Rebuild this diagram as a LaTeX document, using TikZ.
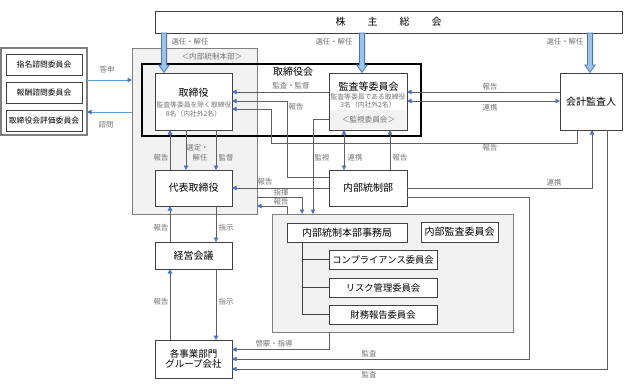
\documentclass[tikz,border=0pt]{standalone}
\usepackage{fontspec}
\setmainfont{Noto Sans CJK JP}
\usetikzlibrary{arrows.meta,calc}
\definecolor{boxc}{RGB}{64,64,64}
\definecolor{grayf}{RGB}{242,242,242}
\definecolor{grayb}{RGB}{127,127,127}
\definecolor{lineg}{RGB}{95,95,95}
\definecolor{arrb}{RGB}{68,114,196}
\definecolor{txtg}{RGB}{115,115,115}
\definecolor{bigf}{RGB}{157,195,230}
\definecolor{bigd}{RGB}{74,120,181}
\definecolor{linb}{RGB}{91,155,213}
\tikzset{
 every node/.style={inner sep=0pt, outer sep=0pt},
 box/.style={draw=boxc, line width=0.9pt, fill=white, font=\fontsize{10}{12}\selectfont},
 cbox/.style={draw=boxc, line width=0.9pt, fill=white, minimum width=76, minimum height=21, font=\fontsize{7.8}{9}\selectfont},
 gbox/.style={draw=grayb, line width=0.9pt, fill=grayf},
 ttl/.style={font=\fontsize{10}{12}\selectfont},
 lbl/.style={text=txtg, font=\fontsize{7.4}{8.5}\selectfont},
 sm/.style={text=txtg, font=\fontsize{6.8}{8}\selectfont},
 con/.style={draw=lineg, line width=0.8pt},
 blin/.style={draw=linb, line width=0.9pt},
 tree/.style={draw=boxc, line width=0.8pt},
 ar/.style={-{Triangle[length=4.5pt,width=4.5pt,color=arrb]}},
 al/.style={{Triangle[length=4.5pt,width=4.5pt,color=arrb]}-},
 ab/.style={{Triangle[length=4.5pt,width=4.5pt,color=arrb]}-{Triangle[length=4.5pt,width=4.5pt,color=arrb]}},
 bigarr/.style={draw=bigd, fill=bigf, line width=0.8pt, line join=miter}
}
\newcommand\BigArr[3]{%
 \draw[bigarr] let \p1=(#1), \p2=(#2), \p3=(#3) in
  (\x1-2.6pt,\y2) -- (\x1+2.6pt,\y2) -- (\x1+2.6pt,\y3+8pt) -- (\x1+5.2pt,\y3+8pt)
  -- (\x1,\y3+0.6pt) -- (\x1-5.2pt,\y3+8pt) -- (\x1-2.6pt,\y3+8pt) -- cycle;}
\begin{document}
\begin{tikzpicture}[x=1pt,y=-1pt]
\useasboundingbox (0,0) rectangle (633,389);
% top box
\node[box, minimum width=467, minimum height=22] (sh) at (388.5,22) {株\hspace{22pt}主\hspace{22pt}総\hspace{22pt}会};
% committees
\node[draw=grayb, line width=1.3pt, fill=white, minimum width=86, minimum height=87] (com) at (44,91.5) {};
\node[cbox] (c1) at (44,64.5) {指名諮問委員会};
\node[cbox] (c2) at (44,92.5) {報酬諮問委員会};
\node[cbox] (c3) at (44,120.5) {取締役会評価委員会};
% gray areas
\node[gbox, minimum width=125, minimum height=166] (ns) at (194.5,131) {};
\node[lbl, font=\fontsize{7.6}{9}\selectfont] (nsl) at (212,57) {＜内部統制本部＞};
\node[gbox, minimum width=241, minimum height=118] (low) at (392.5,273) {};
% board frame
\node[draw=black, line width=1.8pt, minimum width=279, minimum height=72] (tb) at (281.5,100) {};
\node[ttl] (tbl) at (293,72) {取締役会};
% directors
\node[box, minimum width=77, minimum height=57] (tor) at (193.5,101.5) {};
\node[ttl] (tor1) at (193.5,93) {取締役};
\node[sm] (tor2) at (194,105) {監査等委員を除く取締役};
\node[sm] (tor3) at (193.5,114) {8名（内社外2名）};
% audit committee
\node[box, minimum width=78, minimum height=57] (kan) at (368,101.5) {};
\fill[grayf] ($(kan.south west)+(1,-0.6)$) rectangle ($(kan.north east)+(-1,37)$);
\node[ttl] (kan1) at (368.5,87) {監査等委員会};
\node[sm] (kan2) at (368,97) {監査等委員である取締役};
\node[sm] (kan3) at (368,104.5) {3名（内社外2名）};
\node[lbl, font=\fontsize{7.6}{9}\selectfont] (kan4) at (368.5,120) {＜監視委員会＞};
% other boxes
\node[box, minimum width=62, minimum height=57] (kai) at (591,101.5) {会計監査人};
\node[box, minimum width=77, minimum height=36] (dai) at (193.5,188) {代表取締役};
\node[box, minimum width=77, minimum height=27] (kei) at (193.5,255.5) {経営会議};
\node[box, minimum width=77, minimum height=38, align=center, font=\fontsize{9.5}{10.5}\selectfont] (kak) at (193.5,359) {各事業部門\\グループ会社};
\node[box, minimum width=78, minimum height=36] (nai) at (368,188) {内部統制部};
\node[box, minimum width=120, minimum height=19] (jim) at (347,232.5) {内部統制本部事務局};
\node[box, minimum width=77, minimum height=20] (kan5) at (459.5,232) {内部監査委員会};
\node[box, minimum width=108, minimum height=19, font=\fontsize{9.3}{11}\selectfont] (cmp) at (383,259.5) {コンプライアンス委員会};
\node[box, minimum width=108, minimum height=19, font=\fontsize{9.3}{11}\selectfont] (rsk) at (383,287.5) {リスク管理委員会};
\node[box, minimum width=108, minimum height=19, font=\fontsize{9.3}{11}\selectfont] (zai) at (383,314.5) {財務報告委員会};
% tree
\coordinate (tr) at ($(jim.south west)+(15,0)$);
\draw[tree] (tr) |- (cmp.west);
\draw[tree] (tr) |- (rsk.west);
\draw[tree] (tr) |- (zai.west);
% connectors
\draw[blin, ar] (com.east |- 0,80) -- (ns.west |- 0,80);
\draw[blin, al] (com.east |- 0,112) -- (ns.west |- 0,112);
\draw[con, ar] (kan.west |- 0,92) -- (tor.east |- 0,92);
\draw[con, ar] (nai.west |- 0,177) -| (287,101) -- (tor.east |- 0,101);
\draw[con, ar] (kai.south -| 577,0) |- (271,143) |- (tor.east |- 0,109);
\draw[con, ar] (kai.west |- 0,92) -- (kan.east |- 0,92);
\draw[con, ab] (kan.east |- 0,101) -- (kai.west |- 0,101);
\draw[con, ar] (dai.north -| 170,0) -- (tor.south -| 170,0);
\draw[con, ar] (tor.south -| 186,0) -- (dai.north -| 186,0);
\draw[con, ar] (tor.south -| 216,0) -- (dai.north -| 216,0);
\draw[con, ar] (kei.north -| 170,0) -- (dai.south -| 170,0);
\draw[con, ar] (dai.south -| 216,0) -- (kei.north -| 216,0);
\draw[con, ar] (kak.north -| 170,0) -- (kei.south -| 170,0);
\draw[con, ar] (kei.south -| 216,0) -- (kak.north -| 216,0);
\draw[con, ar] (nai.west |- 0,188) -- (dai.east |- 0,188);
\draw[con, ar] (ns.east |- 0,197) -| (low.north -| 302,0);
\draw[con, ar] (low.north -| 287,0) |- (ns.east |- 0,206);
\draw[con, ar] (kan.west |- 0,119) -| (low.north -| 313,0);
\draw[con, ab] (kan.south -| 344,0) -- (nai.north -| 344,0);
\draw[con, ar] (nai.north -| 390,0) -- (kan.south -| 390,0);
\draw[con, ar] (nai.east |- 0,188) -| (kai.south -| 592,0);
\draw[con, ar] (nai.east |- 0,197) -| (529,359) -- (kak.east |- 0,359);
\draw[con, ar] (kai.south -| 607,0) |- (kak.east |- 0,369);
\draw[con, ar] (low.south -| 329,0) |- (kak.east |- 0,349.5);
% big arrows
\BigArr{164,0}{sh.south}{tor.north}
\BigArr{362,0}{sh.south}{kan.north}
\BigArr{590,0}{sh.south}{kai.north}
% labels
\node[lbl] (l1) at (190,42) {選任・解任};
\node[lbl] (l2) at (334,42) {選任・解任};
\node[lbl] (l3) at (565,42) {選任・解任};
\node[lbl] (l4) at (107,70) {答申};
\node[lbl] (l5) at (106,125) {諮問};
\node[lbl] (l6) at (291,86) {監査・監督};
\node[lbl] (l7) at (296,107) {報告};
\node[lbl] (l8) at (490,87) {報告};
\node[lbl] (l9) at (490,108) {連携};
\node[lbl] (l10) at (490,148) {報告};
\node[lbl] (l11) at (161,158) {報告};
\node[lbl] (l12) at (197.5,148) {選定・};
\node[lbl] (l13) at (200,158) {解任};
\node[lbl] (l14) at (226,158) {監督};
\node[lbl] (l15) at (322,158) {監視};
\node[lbl] (l16) at (355,158) {連携};
\node[lbl] (l17) at (400,158) {報告};
\node[lbl] (l18) at (265,182) {報告};
\node[lbl] (l19) at (554,183) {連携};
\node[lbl] (l20) at (281,193) {指揮};
\node[lbl] (l21) at (281,201.5) {報告};
\node[lbl] (l22) at (161,228) {報告};
\node[lbl] (l23) at (226,228) {指示};
\node[lbl] (l24) at (161,302) {報告};
\node[lbl] (l25) at (226,302) {指示};
\node[lbl] (l26) at (274,344) {啓蒙・指導};
\node[lbl] (l27) at (369,354) {監査};
\node[lbl] (l28) at (369,375) {監査};
\end{tikzpicture}
\end{document}
